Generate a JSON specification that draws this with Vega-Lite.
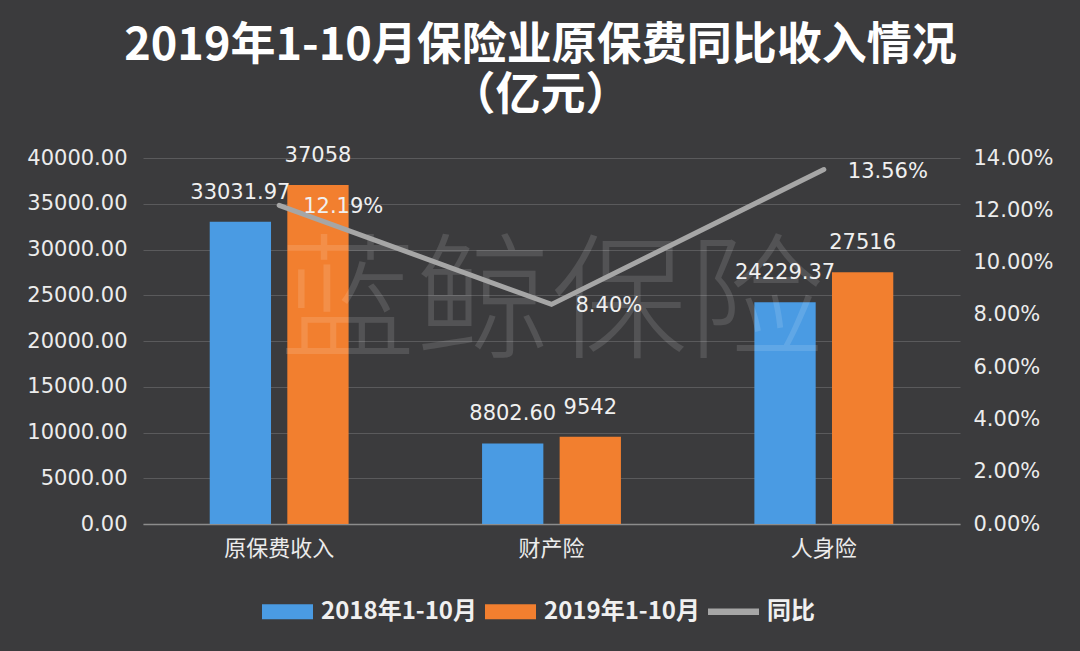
{
  "$schema": "https://vega.github.io/schema/vega-lite/v6.json",
  "width": 817,
  "height": 366,
  "autosize": {"type": "none"},
  "padding": {"left": 143, "top": 158, "right": 120, "bottom": 127},
  "background": "#3b3b3d",
  "config": {"view": {"stroke": null}, "font": "Noto Sans CJK SC"},
  "title": {
    "text": ["2019年1-10月保险业原保费同比收入情况", "（亿元）"],
    "fontSize": 45,
    "fontWeight": "bold",
    "color": "#ffffff",
    "lineHeight": 50,
    "font": "Noto Sans CJK SC",
    "anchor": "middle",
    "dx": -11,
    "offset": 26
  },
  "datasets": {
    "bars": [
      {"类别": "原保费收入", "系列": "2018年1-10月", "保费": 33031.97, "标签": "33031.97"},
      {"类别": "原保费收入", "系列": "2019年1-10月", "保费": 37058, "标签": "37058"},
      {"类别": "财产险", "系列": "2018年1-10月", "保费": 8802.6, "标签": "8802.60"},
      {"类别": "财产险", "系列": "2019年1-10月", "保费": 9542, "标签": "9542"},
      {"类别": "人身险", "系列": "2018年1-10月", "保费": 24229.37, "标签": "24229.37"},
      {"类别": "人身险", "系列": "2019年1-10月", "保费": 27516, "标签": "27516"}
    ],
    "rate": [
      {"类别": "原保费收入", "同比": 0.1219},
      {"类别": "财产险", "同比": 0.084},
      {"类别": "人身险", "同比": 0.1356}
    ],
    "mark": [{"水印": "蓝鲸保险"}]
  },
  "layer": [
    {
      "data": {"name": "bars"},
      "layer": [
        {
          "mark": {"type": "bar"},
          "encoding": {
            "x": {
              "field": "类别", "type": "nominal",
              "sort": ["原保费收入", "财产险", "人身险"],
              "scale": {"paddingInner": 0.49, "paddingOuter": 0.245},
              "axis": {
                "title": null, "labelAngle": 0, "labelFontSize": 22,
                "labelColor": "#ececec", "labelFont": "Noto Sans CJK SC",
                "labelPadding": 14, "ticks": false,
                "domainColor": "#8c8c8c", "domainWidth": 1.5
              }
            },
            "xOffset": {
              "field": "系列", "type": "nominal",
              "scale": {"paddingInner": 0.21, "paddingOuter": 0}
            },
            "y": {
              "field": "保费", "type": "quantitative",
              "scale": {"domain": [0, 40000], "nice": false},
              "axis": {
                "title": null,
                "values": [0, 5000, 10000, 15000, 20000, 25000, 30000, 35000, 40000],
                "format": ".2f", "labelFontSize": 21, "labelFont": "DejaVu Sans",
                "labelColor": "#ececec", "labelPadding": 16,
                "ticks": false, "domain": false,
                "gridColor": "#5a5a5c", "gridWidth": 1
              }
            },
            "color": {
              "field": "系列", "type": "nominal",
              "scale": {
                "domain": ["2018年1-10月", "2019年1-10月", "同比"],
                "range": ["#4a9be3", "#f27f2f", "#a6a6a6"]
              },
              "legend": {
                "orient": "none", "legendX": 119, "legendY": 428,
                "direction": "horizontal", "title": null, "padding": 0,
                "symbolType": "M-1,-0.29H1V0.29H-1Z", "symbolSize": 2601,
                "symbolStrokeWidth": 0,
                "labelFontSize": 24, "labelFontWeight": "bold", "labelColor": "#f0f0f0",
                "labelFont": "Noto Sans CJK SC",
                "columnPadding": 8, "labelOffset": 8,
                "encode": {
                  "symbols": {
                    "update": {
                      "shape": {"signal": "datum.label === '同比' ? 'M-1,-0.13H1V0.13H-1Z' : 'M-1,-0.29H1V0.29H-1Z'"}
                    }
                  }
                }
              }
            }
          }
        },
        {
          "mark": {"type": "text", "baseline": "middle", "dy": -29, "fontSize": 21, "font": "DejaVu Sans", "color": "#f0f0f0"},
          "encoding": {
            "x": {"field": "类别", "type": "nominal", "sort": ["原保费收入", "财产险", "人身险"]},
            "xOffset": {"field": "系列", "type": "nominal"},
            "y": {"field": "保费", "type": "quantitative"},
            "text": {"field": "标签", "type": "nominal"}
          }
        },
        {
          "data": {"name": "mark"},
          "mark": {"type": "text", "fontSize": 136, "font": "Noto Sans CJK SC", "fontWeight": 300, "color": "#ffffff", "opacity": 0.12, "baseline": "middle"},
          "encoding": {
            "x": {"datum": "财产险", "type": "nominal"},
            "y": {"datum": 23700, "type": "quantitative"},
            "text": {"field": "水印", "type": "nominal"}
          }
        }
      ]
    },
    {
      "data": {"name": "rate"},
      "layer": [
        {
          "mark": {"type": "line", "strokeWidth": 5, "strokeCap": "round", "strokeJoin": "miter"},
          "encoding": {
            "x": {"field": "类别", "type": "nominal", "sort": ["原保费收入", "财产险", "人身险"]},
            "y": {
              "field": "同比", "type": "quantitative",
              "scale": {"domain": [0, 0.14], "nice": false},
              "axis": {
                "orient": "right", "title": null,
                "values": [0, 0.02, 0.04, 0.06, 0.08, 0.1, 0.12, 0.14],
                "format": ".2%", "labelFontSize": 21, "labelFont": "DejaVu Sans",
                "labelColor": "#ececec", "labelPadding": 13,
                "ticks": false, "domain": false, "grid": false
              }
            },
            "color": {"datum": "同比", "type": "nominal"}
          }
        },
        {
          "mark": {"type": "text", "align": "left", "baseline": "middle", "dx": 24, "dy": 2, "fontSize": 21, "font": "DejaVu Sans", "color": "#f0f0f0"},
          "encoding": {
            "x": {"field": "类别", "type": "nominal", "sort": ["原保费收入", "财产险", "人身险"]},
            "y": {"field": "同比", "type": "quantitative"},
            "text": {"field": "同比", "type": "quantitative", "format": ".2%"}
          }
        }
      ]
    }
  ],
  "resolve": {"scale": {"y": "independent"}}
}
